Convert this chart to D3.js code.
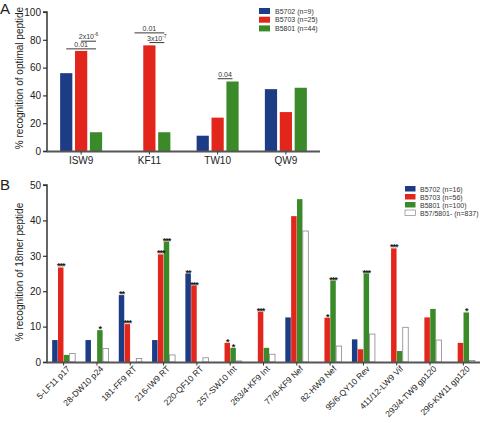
<!DOCTYPE html>
<html><head><meta charset="utf-8">
<script src="https://cdn.jsdelivr.net/npm/d3@7"></script>
<style>body{margin:0;background:#fff}svg{display:block;font-family:"Liberation Sans",Arial,sans-serif}</style>
</head><body><svg id="c" width="480" height="423"></svg>
<script>
// ---------- Panel A data ----------
const catsA = ["ISW9","KF11","TW10","QW9"];
const seriesA = ["B5702","B5703","B5801"];
const legendA = ["B5702 (n=9)","B5703 (n=25)","B5801 (n=44)"];
const valsA_B5702 = [56, 0, 11, 44.5];
const valsA_B5703 = [72, 76, 24, 28];
const valsA_B5801 = [13.5, 13.5, 50, 45.5];
const ticksA = [0,20,40,60,80,100];
const sigA_group = ["ISW9","ISW9","KF11","KF11","TW10"];
const sigA_from  = ["B5702","B5703","B5702","B5703","B5703"];
const sigA_to    = ["B5801","B5801","B5801","B5801","B5801"];
const sigA_level = [73.5, 79, 85, 78, 52];
const sigA_text  = ["0.01","2x10|-6","0.01","3x10|-7","0.04"];

// ---------- Panel B data ----------
const catsB = ["5-LF11 p17","28-DW10 p24","181-FF9 RT","216-IW9 RT","220-QF10 RT","257-SW10 Int","263/4-KF9 Int","77/8-KF9 Nef","82-HW9 Nef","95/6-QY10 Rev","411/12-LW9 Vif","293/4-TW9 gp120","296-KW11 gp120"];
const seriesB = ["B5702","B5703","B5801","B57/5801-"];
const legendB = ["B5702 (n=16)","B5703 (n=56)","B5801 (n=100)","B57/5801- (n=837)"];
const valsB_B5702 = [6.2, 6.2, 18.9, 6.2, 25, 0, 0, 12.6, 0, 6.4, 0, 0, 0];
const valsB_B5703 = [26.7, 0, 10.7, 30.4, 21.6, 5.4, 14.2, 41.2, 12.5, 3.6, 32.1, 12.6, 5.4];
const valsB_B5801 = [2.0, 9.0, 0, 34, 0, 4.0, 4.0, 46, 23, 25, 3.1, 15, 14];
const valsB_neg   = [2.4, 3.8, 1.0, 2.0, 1.2, 0.3, 2.2, 37, 4.5, 7.9, 9.8, 6.2, 0.4];
const starsB_B5702 = ["","","**","","**","","","","","","","",""];
const starsB_B5703 = ["***","","***","***","***","*","***","","*","","***","",""];
const starsB_B5801 = ["","*","","***","","*","","","***","***","","","*"];
const ticksB = [0,10,20,30,40,50];

const colors = {"B5702":"#1c3c86","B5703":"#e2261c","B5801":"#3a8a2a","B57/5801-":"#ffffff"};
const svg = d3.select("#c");
const axisCol = "#333";

// ================= Panel A =================
{
  const x0 = d3.scaleBand().domain(catsA).range([47,320]).padding(0);
  const x1 = d3.scaleBand().domain(seriesA).range([-21,21]).paddingInner(0.18);
  const y = d3.scaleLinear().domain([0,100]).range([151,12]);
  const valsA = {"B5702":valsA_B5702,"B5703":valsA_B5703,"B5801":valsA_B5801};
  const g = svg.append("g");
  const data = [];
  catsA.forEach((c,i)=>seriesA.forEach(s=>data.push({c,s,v:valsA[s][i]})));
  g.selectAll("rect.bar").data(data.filter(d=>d.v>0)).join("rect")
    .attr("x",d=>x0(d.c)+x0.bandwidth()/2+x1(d.s))
    .attr("width",x1.bandwidth())
    .attr("y",d=>y(d.v)).attr("height",d=>y(0)-y(d.v))
    .attr("fill",d=>colors[d.s]);
  const ya = g.append("g").attr("transform","translate(47,0)")
    .call(d3.axisLeft(y).tickValues(ticksA).tickSize(4).tickPadding(2));
  ya.select(".domain").attr("stroke",axisCol).attr("stroke-width",1.5).attr("d","M-4,151.5H0V12H-4");
  ya.selectAll(".tick line").attr("stroke",axisCol).attr("stroke-width",1.2);
  ya.selectAll(".tick text").attr("font-size",10).attr("fill","#222").attr("font-family","Liberation Sans, Arial");
  const xa = g.append("g").attr("transform","translate(0,151.5)")
    .call(d3.axisBottom(x0).tickSize(3).tickPadding(2));
  xa.select(".domain").attr("stroke","#555").attr("stroke-width",1.8).attr("d","M47,0H320");
  xa.selectAll(".tick line").attr("stroke",axisCol);
  xa.selectAll(".tick text").attr("font-size",10).attr("fill","#222").attr("font-family","Liberation Sans, Arial");
  // significance
  sigA_group.forEach((grp,i)=>{
    const cx = s => x0(grp)+x0.bandwidth()/2+x1(s)+x1.bandwidth()/2;
    const xa1 = cx(sigA_from[i]), xa2 = cx(sigA_to[i]);
    const yy = y(sigA_level[i]);
    g.append("line").attr("x1",xa1).attr("x2",xa2).attr("y1",yy).attr("y2",yy)
      .attr("stroke", sigA_from[i]==="B5702" ? "#666" : "#222").attr("stroke-width", sigA_from[i]==="B5702"?1.3:0.9);
    const parts = sigA_text[i].split("|");
    const t = g.append("text").attr("x",(xa1+xa2)/2).attr("y",yy-2).attr("text-anchor","middle")
      .attr("font-size",7).attr("fill","#333").text(parts[0]);
    if(parts[1]) t.append("tspan").attr("font-size",5).attr("dy",-3).text(parts[1]);
  });
  // legend
  const lg = g.append("g").attr("transform","translate(259,8)");
  seriesA.forEach((s,i)=>{
    lg.append("rect").attr("x",0).attr("y",i*8.7).attr("width",11).attr("height",6).attr("fill",colors[s]);
    lg.append("text").attr("x",16).attr("y",i*8.7+5.5).attr("font-size",7).attr("fill","#333").text(legendA[i]);
  });
  g.append("text").attr("transform","translate(23,78) rotate(-90)").attr("text-anchor","middle")
    .attr("font-size",10).attr("fill","#222").text("% recognition of optimal peptide");
  g.append("text").attr("x",0).attr("y",14).attr("font-size",15).attr("fill","#222").text("A");
}

// ================= Panel B =================
{
  const x0 = d3.scaleBand().domain(catsB).range([47,480]).padding(0);
  const x1 = d3.scaleBand().domain(seriesB).range([-11.5,11.5]).paddingInner(0.06);
  const y = d3.scaleLinear().domain([0,50]).range([362,185]);
  const valsB = {"B5702":valsB_B5702,"B5703":valsB_B5703,"B5801":valsB_B5801,"B57/5801-":valsB_neg};
  const starsB = {"B5702":starsB_B5702,"B5703":starsB_B5703,"B5801":starsB_B5801};
  const g = svg.append("g");
  const data = [];
  catsB.forEach((c,i)=>seriesB.forEach(s=>data.push({c,s,v:valsB[s][i],st:starsB[s]?starsB[s][i]:""})));
  const bx = d=>x0(d.c)+x0.bandwidth()/2+x1(d.s);
  g.selectAll("rect.bar").data(data.filter(d=>d.v>0)).join("rect")
    .attr("x",bx).attr("width",x1.bandwidth())
    .attr("y",d=>y(d.v)).attr("height",d=>y(0)-y(d.v))
    .attr("fill",d=>colors[d.s])
    .attr("stroke",d=>d.s==="B57/5801-"?"#888":"none").attr("stroke-width",0.8);
  g.selectAll("text.star").data(data.filter(d=>d.st)).join("text")
    .attr("x",d=>bx(d)+x1.bandwidth()/2).attr("y",d=>y(d.v)+2)
    .attr("text-anchor","middle").attr("font-size",9).attr("font-weight","bold").attr("fill","#222")
    .attr("letter-spacing",-1).text(d=>d.st);
  const ya = g.append("g").attr("transform","translate(47,0)")
    .call(d3.axisLeft(y).tickValues(ticksB).tickSize(4).tickPadding(2));
  ya.select(".domain").attr("stroke",axisCol).attr("stroke-width",1.5).attr("d","M-4,362.5H0V185H-4");
  ya.selectAll(".tick line").attr("stroke",axisCol).attr("stroke-width",1.2);
  ya.selectAll(".tick text").attr("font-size",10).attr("fill","#222").attr("font-family","Liberation Sans, Arial");
  const xa = g.append("g").attr("transform","translate(0,362.5)")
    .call(d3.axisBottom(x0).tickSize(3).tickPadding(2));
  xa.select(".domain").attr("stroke","#555").attr("stroke-width",1.8).attr("d","M47,0H480");
  xa.selectAll(".tick line").attr("stroke",axisCol);
  xa.selectAll(".tick text").attr("font-size",8.5).attr("fill","#222").attr("font-family","Liberation Sans, Arial")
    .attr("text-anchor","end").attr("transform","translate(3,3) rotate(-45)").attr("dy","0.3em").attr("y",3);
  const lg = g.append("g").attr("transform","translate(405,186)");
  seriesB.forEach((s,i)=>{
    lg.append("rect").attr("x",0).attr("y",i*8).attr("width",10.5).attr("height",5.5)
      .attr("fill",colors[s]).attr("stroke",s==="B57/5801-"?"#888":"none").attr("stroke-width",0.7);
    lg.append("text").attr("x",15).attr("y",i*8+5.5).attr("font-size",7).attr("fill","#333").text(legendB[i]);
  });
  g.append("text").attr("transform","translate(23,272) rotate(-90)").attr("text-anchor","middle")
    .attr("font-size",10).attr("fill","#222").text("% recognition of 18mer peptide");
  g.append("text").attr("x",0).attr("y",190).attr("font-size",15).attr("fill","#222").text("B");
}
</script></body></html>
